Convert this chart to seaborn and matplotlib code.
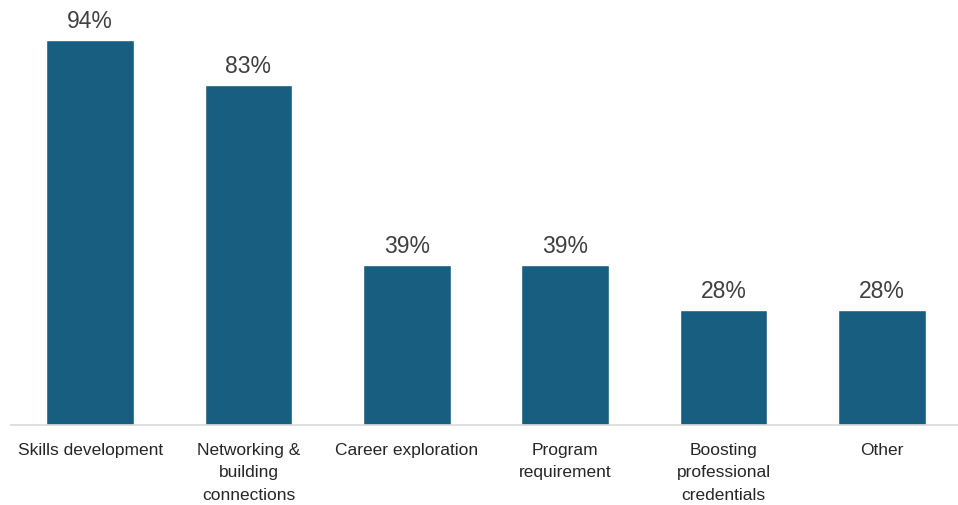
import matplotlib
matplotlib.use("Agg")
import matplotlib.pyplot as plt
import seaborn as sns
import pandas as pd

categories = [
    "Skills development",
    "Networking &\nbuilding\nconnections",
    "Career exploration",
    "Program\nrequirement",
    "Boosting\nprofessional\ncredentials",
    "Other",
]
values = [94, 83, 39, 39, 28, 28]

df = pd.DataFrame({"category": categories, "value": values})

sns.set_theme(style="white")
plt.rcParams["font.family"] = ["Liberation Sans", "DejaVu Sans"]

fig = plt.figure(figsize=(9.58, 5.05), dpi=100)
ax = fig.add_axes([11 / 958, 80 / 505, 950 / 958, 409.6 / 505])

sns.barplot(data=df, x="category", y="value", color="#175e80",
            width=0.555, saturation=1, ax=ax)

for i, v in enumerate(values):
    ax.text(i, v + 1.8, f"{v}%", ha="center", va="bottom",
            fontsize=16.5, color="#404040")

ax.set_xlim(-0.5, 5.5)
ax.set_ylim(0, 100)
ax.set_xlabel("")
ax.set_ylabel("")
ax.set_yticks([])
for side in ["top", "right", "left"]:
    ax.spines[side].set_visible(False)
ax.spines["bottom"].set_color("#d9d9d9")
ax.spines["bottom"].set_linewidth(1.2)
ax.tick_params(axis="x", length=0, pad=13, labelsize=12.5, labelcolor="#262626")
for lbl in ax.get_xticklabels():
    lbl.set_linespacing(1.62)
    lbl.set_verticalalignment("top")

fig.savefig("out.png", dpi=100)
